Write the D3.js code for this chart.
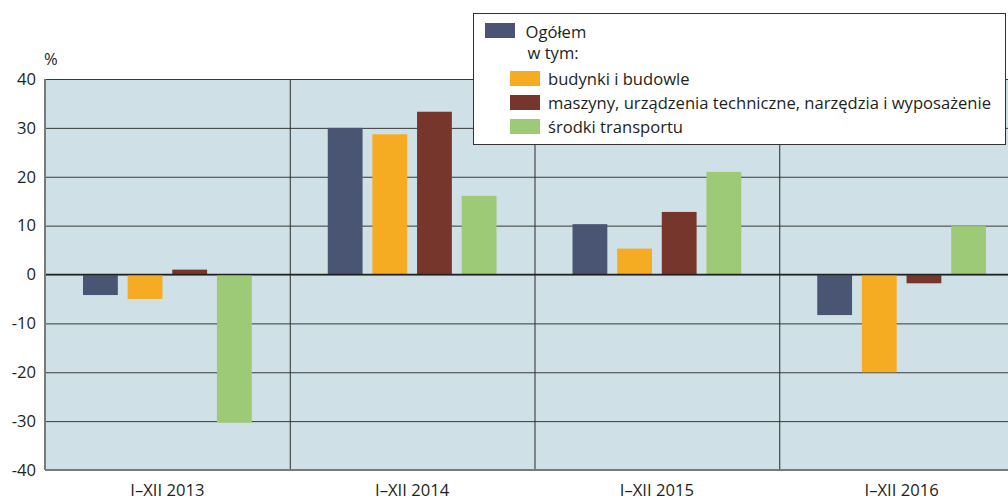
<!DOCTYPE html>
<html>
<head>
<meta charset="utf-8">
<script src="https://cdn.jsdelivr.net/npm/d3@7"></script>
<style>
  body { margin: 0; background: #fff; }
  svg text { font-family: "Open Sans", sans-serif; fill: #231f20; }
</style>
</head>
<body>
<div id="root"></div>
<script>
const categories = ['I–XII 2013', 'I–XII 2014', 'I–XII 2015', 'I–XII 2016'];
const seriesNames = ['Ogółem', 'budynki i budowle', 'maszyny, urządzenia techniczne, narzędzia i wyposażenie', 'środki transportu'];
const ogolem = [-4.2, 30.0, 10.3, -8.3];
const budynki = [-5.0, 28.7, 5.3, -20.0];
const maszyny = [1.0, 33.3, 12.8, -1.8];
const transport = [-30.3, 16.1, 21.0, 9.9];
const yTicks = [-40, -30, -20, -10, 0, 10, 20, 30, 40];

const colors = ['#4a5473', '#f5ac22', '#77362c', '#9dca77'];
const seriesValues = [ogolem, budynki, maszyny, transport];
const fontSize = 16.6;

const svgWidth = 1008;
const svgHeight = 502;
const margin = { top: 79, left: 45 };
const chartWidth = 979;
const chartHeight = 391;

const svg = d3.select('#root').append('svg')
  .attr('width', svgWidth)
  .attr('height', svgHeight);

const xScale = d3.scaleBand()
  .domain(categories)
  .range([0, chartWidth]);

const xInner = d3.scaleBand()
  .domain(d3.range(seriesNames.length))
  .range([38, xScale.bandwidth() - 38])
  .paddingInner(0.22);

const yScale = d3.scaleLinear()
  .domain([-40, 40])
  .range([chartHeight, 0]);

const chart = svg.append('g')
  .attr('transform', `translate(${margin.left}, ${margin.top})`);

chart.append('rect')
  .attr('width', chartWidth)
  .attr('height', chartHeight)
  .attr('fill', '#cfe0e6');

chart.append('g')
  .selectAll('line')
  .data(yTicks.filter(t => t !== -40))
  .enter()
  .append('line')
  .attr('x1', 0)
  .attr('x2', chartWidth)
  .attr('y1', d => yScale(d) + 0.5)
  .attr('y2', d => yScale(d) + 0.5)
  .attr('stroke', '#3a3a3a')
  .attr('stroke-width', 1);

chart.append('g')
  .selectAll('line')
  .data(categories.slice(1))
  .enter()
  .append('line')
  .attr('x1', d => xScale(d) + 0.5)
  .attr('x2', d => xScale(d) + 0.5)
  .attr('y1', 0)
  .attr('y2', chartHeight)
  .attr('stroke', '#2a2a2a')
  .attr('stroke-width', 1);

const groups = chart.selectAll('.cat')
  .data(categories)
  .enter()
  .append('g')
  .attr('class', 'cat')
  .attr('transform', d => `translate(${xScale(d)}, 0)`);

groups.selectAll('rect')
  .data((d, ci) => seriesValues.map((vals, si) => ({ si, v: vals[ci] })))
  .enter()
  .append('rect')
  .attr('x', d => xInner(d.si))
  .attr('width', xInner.bandwidth())
  .attr('y', d => yScale(Math.max(0, d.v)))
  .attr('height', d => Math.abs(yScale(d.v) - yScale(0)))
  .attr('fill', d => colors[d.si]);

// zero line
chart.append('line')
  .attr('x1', 0)
  .attr('x2', chartWidth)
  .attr('y1', yScale(0))
  .attr('y2', yScale(0))
  .attr('stroke', '#222')
  .attr('stroke-width', 1.5);

// axis lines
chart.append('line')
  .attr('x1', 0).attr('x2', 0)
  .attr('y1', 0).attr('y2', chartHeight)
  .attr('stroke', '#7a7a7a')
  .attr('stroke-width', 2);

chart.append('line')
  .attr('x1', 0).attr('x2', chartWidth)
  .attr('y1', chartHeight).attr('y2', chartHeight)
  .attr('stroke', '#7a7a7a')
  .attr('stroke-width', 2);

const yAxis = chart.append('g')
  .call(d3.axisLeft(yScale).tickValues(yTicks).tickFormat(d => String(d)).tickSize(0).tickPadding(9));
yAxis.select('.domain').remove();
yAxis.selectAll('text')
  .attr('font-size', fontSize)
  .attr('fill', '#231f20')
  .style('font-family', '"Open Sans", sans-serif');

const xAxis = chart.append('g')
  .attr('transform', `translate(0, ${chartHeight})`)
  .call(d3.axisBottom(xScale).tickSize(0).tickPadding(14));
xAxis.select('.domain').remove();
xAxis.selectAll('text')
  .attr('font-size', fontSize)
  .attr('fill', '#231f20')
  .style('font-family', '"Open Sans", sans-serif');

svg.append('text')
  .attr('x', 44)
  .attr('y', 65)
  .attr('font-size', fontSize)
  .text('%');

// legend
const legend = svg.append('g')
  .attr('transform', 'translate(473.5, 13.5)');

legend.append('rect')
  .attr('width', 532)
  .attr('height', 131)
  .attr('fill', '#fff')
  .attr('stroke', '#333')
  .attr('stroke-width', 1);

legend.append('rect')
  .attr('x', 11.5).attr('y', 9.5)
  .attr('width', 30).attr('height', 15)
  .attr('fill', colors[0]);

legend.append('text')
  .attr('x', 52).attr('y', 24.5)
  .attr('font-size', fontSize)
  .text(seriesNames[0]);

legend.append('text')
  .attr('x', 54).attr('y', 45.5)
  .attr('font-size', fontSize)
  .text('w tym:');

const items = legend.selectAll('.item')
  .data(seriesNames.slice(1))
  .enter()
  .append('g')
  .attr('class', 'item')
  .attr('transform', (d, i) => `translate(36.5, ${57.5 + i * 24})`);

items.append('rect')
  .attr('width', 30)
  .attr('height', 15)
  .attr('fill', (d, i) => colors[i + 1]);

items.append('text')
  .attr('x', 38)
  .attr('y', 14)
  .attr('font-size', fontSize)
  .text(d => d);
</script>
</body>
</html>
